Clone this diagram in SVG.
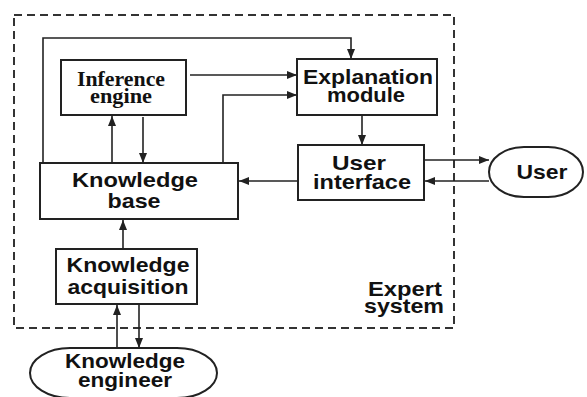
<svg xmlns="http://www.w3.org/2000/svg" width="587" height="397" viewBox="0 0 587 397">
<style>
.box{fill:#fff;stroke:#222;stroke-width:2}
.t{font-family:"Liberation Sans",Arial,sans-serif;font-weight:bold;font-size:21px;fill:#111;text-anchor:middle}
.s{font-family:"Liberation Serif","Times New Roman",serif;font-weight:bold;font-size:21px;fill:#111;text-anchor:middle}
.c{fill:none;stroke:#222;stroke-width:1.6}
</style>
<defs>
<marker id="a" viewBox="0 0 10 8" refX="10" refY="4" markerWidth="10" markerHeight="8" markerUnits="userSpaceOnUse" orient="auto">
<path d="M0,0 L10,4 L0,8 Z" fill="#222"/>
</marker>
</defs>
<rect width="587" height="397" fill="#fff"/>
<g id="expert-system">
<rect x="14" y="15" width="440" height="313" fill="none" stroke="#333" stroke-width="2" stroke-dasharray="8,5"/>
<text class="t" x="405" y="296" textLength="74" lengthAdjust="spacingAndGlyphs">Expert</text>
<text class="t" x="404" y="313" textLength="80" lengthAdjust="spacingAndGlyphs">system</text>
</g>
<g id="connectors">
<path class="c" d="M43,163 V38 H351 V59" marker-end="url(#a)"/>
<path class="c" d="M190,75 H297" marker-end="url(#a)"/>
<path class="c" d="M223,163 V95 H297" marker-end="url(#a)"/>
<path class="c" d="M112,163 V116" marker-end="url(#a)"/>
<path class="c" d="M143,117 V163" marker-end="url(#a)"/>
<path class="c" d="M362,116 V145" marker-end="url(#a)"/>
<path class="c" d="M298,181 H239" marker-end="url(#a)"/>
<path class="c" d="M425,160 H489" marker-end="url(#a)"/>
<path class="c" d="M489,181 H425" marker-end="url(#a)"/>
<path class="c" d="M123,249 V220" marker-end="url(#a)"/>
<path class="c" d="M117,348 V305" marker-end="url(#a)"/>
<path class="c" d="M139,305 V348" marker-end="url(#a)"/>
</g>
<g id="inference-engine">
<rect class="box" x="61" y="60" width="125" height="55"/>
<text class="s" x="121" y="86" textLength="88" lengthAdjust="spacingAndGlyphs">Inference</text>
<text class="s" x="121" y="103" textLength="62" lengthAdjust="spacingAndGlyphs">engine</text>
</g>
<g id="explanation-module">
<rect class="box" x="297" y="59" width="140" height="56"/>
<text class="t" x="368" y="84" textLength="130" lengthAdjust="spacingAndGlyphs">Explanation</text>
<text class="t" x="366" y="102" textLength="78" lengthAdjust="spacingAndGlyphs">module</text>
</g>
<g id="user-interface">
<rect class="box" x="298" y="145" width="126" height="55"/>
<text class="t" x="359" y="170" textLength="54" lengthAdjust="spacingAndGlyphs">User</text>
<text class="t" x="362" y="189" textLength="98" lengthAdjust="spacingAndGlyphs">interface</text>
</g>
<g id="knowledge-base">
<rect class="box" x="40" y="163" width="198" height="56"/>
<text class="t" x="135" y="187" textLength="126" lengthAdjust="spacingAndGlyphs">Knowledge</text>
<text class="t" x="134" y="208" textLength="53" lengthAdjust="spacingAndGlyphs">base</text>
</g>
<g id="knowledge-acquisition">
<rect class="box" x="56" y="249" width="141" height="55"/>
<text class="t" x="128" y="272" textLength="123" lengthAdjust="spacingAndGlyphs">Knowledge</text>
<text class="t" x="128" y="294" textLength="121" lengthAdjust="spacingAndGlyphs">acquisition</text>
</g>
<g id="knowledge-engineer">
<rect class="box" x="30" y="348" width="187" height="50" rx="40" ry="25"/>
<text class="t" x="125" y="368" textLength="120" lengthAdjust="spacingAndGlyphs">Knowledge</text>
<text class="t" x="125" y="387" textLength="94" lengthAdjust="spacingAndGlyphs">engineer</text>
</g>
<g id="user">
<rect class="box" x="489" y="147" width="94" height="50" rx="35" ry="25"/>
<text class="t" x="542" y="179" textLength="51" lengthAdjust="spacingAndGlyphs">User</text>
</g>
</svg>
